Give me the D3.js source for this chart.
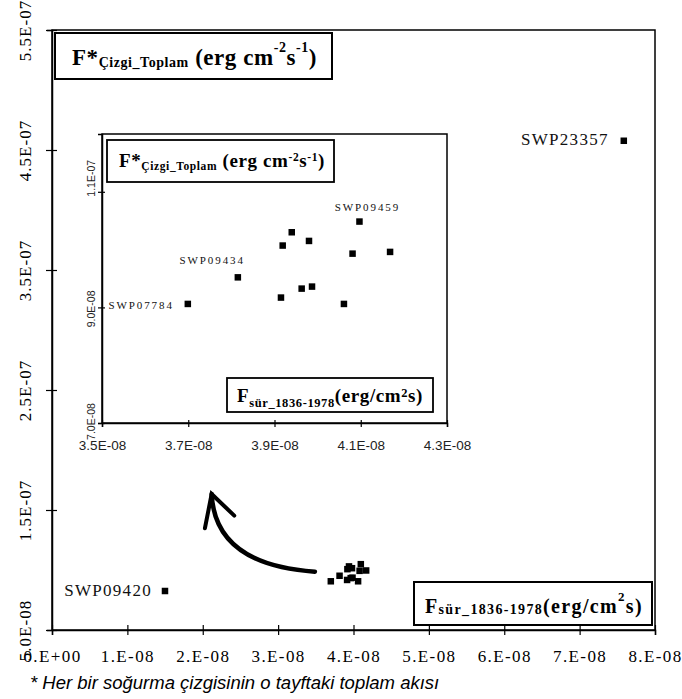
<!DOCTYPE html>
<html>
<head>
<meta charset="utf-8">
<script src="https://cdn.jsdelivr.net/npm/d3@7"></script>
<style>
	body { margin: 0; background: #fff; }
	text { white-space: pre; }
</style>
</head>
<body onload="onLoad()">
<div></div>
<script>
// spectrum names, continuum flux (x) and total line flux (y)
var pointNames = ["SWP23357", "SWP09420", "SWP07784", "SWP09434", "", "", "", "", "", "", "", "", "SWP09459", ""];
var fluxSur = [7.586e-8, 1.499e-8, 3.699e-8, 3.815e-8, 3.915e-8, 3.919e-8, 3.940e-8, 3.963e-8,
	3.980e-8, 3.987e-8, 4.061e-8, 4.081e-8, 4.097e-8, 4.168e-8];
var fluxLine = [4.577e-7, 8.25e-8, 9.06e-8, 9.52e-8, 9.17e-8, 10.07e-8, 10.30e-8, 9.325e-8,
	10.15e-8, 9.36e-8, 9.06e-8, 9.93e-8, 10.485e-8, 9.96e-8];

var mainLabels = ["SWP23357", "SWP09420"];
var insetLabels = ["SWP07784", "SWP09434", "SWP09459"];

var mainXTicks = [0, 1e-8, 2e-8, 3e-8, 4e-8, 5e-8, 6e-8, 7e-8, 8e-8];
var mainXTickLabels = ["0.E+00", "1.E-08", "2.E-08", "3.E-08", "4.E-08", "5.E-08", "6.E-08", "7.E-08", "8.E-08"];
var mainYTicks = [5e-8, 1.5e-7, 2.5e-7, 3.5e-7, 4.5e-7, 5.5e-7];
var mainYTickLabels = ["5.0E-08", "1.5E-07", "2.5E-07", "3.5E-07", "4.5E-07", "5.5E-07"];
var insetXTicks = [3.5e-8, 3.7e-8, 3.9e-8, 4.1e-8, 4.3e-8];
var insetXTickLabels = ["3.5E-08", "3.7E-08", "3.9E-08", "4.1E-08", "4.3E-08"];
var insetYTicks = [7e-8, 9e-8, 1.1e-7];
var insetYTickLabels = ["7.0E-08", "9.0E-08", "1.1E-07"];

// hand drawn arrow (start, bend, tip, two barbs), in data units of the main chart
var arrowStart = [3.488e-8, 9.86e-8];
var arrowBend = [2.163e-8, 1.042e-7];
var arrowTip = [2.118e-8, 1.633e-7];
var arrowBarbs = [[2.029e-8, 1.348e-7], [2.418e-8, 1.453e-7]];

var footnote = "* Her bir soğurma çizgisinin o tayftaki toplam akısı";

var svgContainer,
	serif = "'Liberation Serif', 'Times New Roman', serif",
	sans = "'Liberation Sans', Arial, sans-serif";

function onLoad() {
	svgContainer = d3.select("div")
	.append("svg")
	.attr("width", 682)
	.attr("height", 699);

	svgContainer.append("rect").attr("width", 682).attr("height", 699).attr("fill", "#fff");

	var x = d3.scaleLinear().domain([0, 8e-8]).range([52, 655]);
	var y = d3.scaleLinear().domain([5e-8, 5.5e-7]).range([630, 30]);

	drawMainChart(x, y);
	drawArrow(x, y);

	var xi = d3.scaleLinear().domain([3.5e-8, 4.3e-8]).range([102, 447]);
	var yi = d3.scaleLinear().domain([7e-8, 1.2e-7]).range([423, 134]);
	drawInset(xi, yi);

	svgContainer.append("text")
	.attr("x", 30)
	.attr("y", 689)
	.attr("font-family", sans)
	.attr("font-style", "italic")
	.attr("font-size", 18.5)
	.attr("fill", "#000")
	.text(footnote);
}

////////////////////////////////////////////
////////////DRAWING/////////////////////////
////////////////////////////////////////////

function drawMainChart(x, y) {
	// frame
	svgContainer.append("rect")
	.attr("x", 52).attr("y", 30)
	.attr("width", 603).attr("height", 600)
	.attr("fill", "none")
	.attr("stroke", "#000")
	.attr("stroke-width", 1.5);

	var xAxis = d3.axisBottom(x)
	.tickValues(mainXTicks)
	.tickFormat(function(d, i) { return mainXTickLabels[i]; })
	.tickSize(5);
	var gx = svgContainer.append("g")
	.attr("transform", "translate(0,630)")
	.call(xAxis);
	styleAxis(gx, serif, 17);
	gx.selectAll(".tick line").attr("y1", -5).attr("y2", 5);
	gx.selectAll(".tick text")
	.attr("y", 32).attr("dy", 0)
	.attr("letter-spacing", 1.4);

	var yAxis = d3.axisLeft(y)
	.tickValues(mainYTicks)
	.tickFormat(function(d, i) { return mainYTickLabels[i]; })
	.tickSize(5);
	var gy = svgContainer.append("g")
	.attr("transform", "translate(52,0)")
	.call(yAxis);
	styleAxis(gy, serif, 17);
	gy.selectAll(".tick line").attr("x1", -6).attr("x2", 5);
	gy.selectAll(".tick text")
	.attr("x", null).attr("dy", null)
	.attr("text-anchor", "middle")
	.attr("letter-spacing", 1)
	.attr("transform", "translate(-21,0) rotate(-90)");

	var outliers = d3.range(fluxSur.length).filter(function(i) {
		return mainLabels.indexOf(pointNames[i]) >= 0 || fluxSur[i] > 3.6e-8;
	});
	drawSquares(svgContainer, outliers, x, y, 6.5);

	var offsets = {
		"SWP23357": {dx: -15, dy: 4, anchor: "end"},
		"SWP09420": {dx: -13, dy: 5, anchor: "end"}
	};
	drawNames(svgContainer, mainLabels, offsets, x, y, 17, 1.3);

	drawBox(svgContainer, 55, 33, 277, 46, 2);
	richText(svgContainer, 72, 65, 23, 245, {sub: 1.7, sup: -13, sizeSub: 14, sizeSup: 14}, [
		{t: "F*"}, {t: "Çizgi_Toplam", sub: true}, {t: " (erg cm"},
		{t: "-2", sup: true}, {t: "s"}, {t: "-1", sup: true}, {t: ")"}
	]);

	drawBox(svgContainer, 414, 582, 238, 43, 2);
	richText(svgContainer, 425, 613, 20, 218, {sub: 1, sup: -12, sizeSub: 14, sizeSup: 13}, [
		{t: "F"}, {t: "sür_1836-1978", sub: true}, {t: "(erg/cm"},
		{t: "2", sup: true}, {t: "s)"}
	]);
}

function drawInset(xi, yi) {
	var inset = svgContainer.append("g");

	inset.append("rect")
	.attr("x", 102).attr("y", 134)
	.attr("width", 345).attr("height", 289)
	.attr("fill", "#fff")
	.attr("stroke", "#000")
	.attr("stroke-width", 1.5);

	var xAxis = d3.axisBottom(xi)
	.tickValues(insetXTicks)
	.tickFormat(function(d, i) { return insetXTickLabels[i]; })
	.tickSize(4);
	var gx = inset.append("g")
	.attr("transform", "translate(0,423)")
	.call(xAxis);
	styleAxis(gx, sans, 13.5);
	gx.selectAll(".tick line").attr("y1", -3).attr("y2", 4);
	gx.selectAll(".tick text").attr("y", 27).attr("dy", 0).attr("fill", "#222");

	// the rotated labels of the inset do not sit evenly on their ticks
	var labelShift = {"7.0E-08": -2, "9.0E-08": 1, "1.1E-07": -14};
	var yAxis = d3.axisLeft(yi)
	.tickValues(insetYTicks)
	.tickFormat(function(d, i) { return insetYTickLabels[i]; })
	.tickSize(4);
	var gy = inset.append("g")
	.attr("transform", "translate(102,0)")
	.call(yAxis);
	styleAxis(gy, sans, 10.5);
	gy.selectAll(".tick line").attr("x1", -4).attr("x2", 3);
	gy.selectAll(".tick text")
	.attr("x", null).attr("dy", null)
	.attr("text-anchor", "middle")
	.attr("fill", "#222")
	.attr("transform", function(d, i) {
		return "translate(-7," + labelShift[insetYTickLabels[i]] + ") rotate(-90)";
	});

	var cluster = d3.range(fluxSur.length).filter(function(i) {
		return fluxSur[i] >= xi.domain()[0] && fluxSur[i] <= xi.domain()[1] &&
			fluxLine[i] >= yi.domain()[0] && fluxLine[i] <= yi.domain()[1];
	});
	drawSquares(inset, cluster, xi, yi, 6.5);

	var offsets = {
		"SWP07784": {dx: -14, dy: 5, anchor: "end"},
		"SWP09434": {dx: 7, dy: -13, anchor: "end"},
		"SWP09459": {dx: 8, dy: -11, anchor: "middle"}
	};
	drawNames(inset, insetLabels, offsets, xi, yi, 11, 1.9);

	drawBox(inset, 107, 140, 227, 42, 1.8);
	richText(inset, 119, 167, 19, 206, {sub: 3.3, sup: -6, sizeSub: 11.5, sizeSup: 11.5}, [
		{t: "F*"}, {t: "Çizgi_Toplam", sub: true}, {t: " (erg cm"},
		{t: "-2", sup: true}, {t: "s"}, {t: "-1", sup: true}, {t: ")"}
	]);

	drawBox(inset, 227, 378, 206, 34, 1.8);
	richText(inset, 237, 402, 19, 186, {sub: 4.5, sup: -5.5, sizeSub: 12.5, sizeSup: 12.5}, [
		{t: "F"}, {t: "sür_1836-1978", sub: true}, {t: "(erg/cm"},
		{t: "2", sup: true}, {t: "s)"}
	]);
}

function styleAxis(g, family, size) {
	g.attr("font-family", family).attr("font-size", size);
	g.select(".domain").attr("stroke", "#000").attr("stroke-width", 1.5);
	g.selectAll(".tick line").attr("stroke", "#000").attr("stroke-width", 1.2);
	g.selectAll(".tick text").attr("fill", "#000");
}

function drawSquares(parent, indexes, x, y, size) {
	parent.selectAll(null)
	.data(indexes)
	.enter()
	.append("rect")
	.attr("x", function(i) { return x(fluxSur[i]) - size / 2; })
	.attr("y", function(i) { return y(fluxLine[i]) - size / 2; })
	.attr("width", size)
	.attr("height", size)
	.attr("fill", "#000");
}

function drawNames(parent, names, offsets, x, y, size, spacing) {
	names.forEach(function(name) {
		var i = pointNames.indexOf(name);
		var o = offsets[name];
		parent.append("text")
		.attr("x", x(fluxSur[i]) + o.dx)
		.attr("y", y(fluxLine[i]) + o.dy)
		.attr("text-anchor", o.anchor)
		.attr("font-family", serif)
		.attr("font-size", size)
		.attr("letter-spacing", spacing)
		.attr("fill", "#111")
		.text(name);
	});
}

function drawBox(parent, bx, by, w, h, sw) {
	parent.append("rect")
	.attr("x", bx).attr("y", by)
	.attr("width", w).attr("height", h)
	.attr("fill", "#fff")
	.attr("stroke", "#000")
	.attr("stroke-width", sw);
}

// bold title with sub/superscripts, spread out to the width it has in the picture
function richText(parent, tx, ty, size, width, shift, parts) {
	var text = parent.append("text")
	.attr("x", tx)
	.attr("y", ty)
	.attr("font-family", serif)
	.attr("font-weight", "bold")
	.attr("fill", "#000");
	var cur = 0, count = 0;
	parts.forEach(function(p) {
		var off = p.sub ? shift.sub : (p.sup ? shift.sup : 0);
		text.append("tspan")
		.attr("dy", off - cur)
		.attr("font-size", p.sub ? shift.sizeSub : (p.sup ? shift.sizeSup : size))
		.text(p.t);
		cur = off;
		count += p.t.length;
	});
	var len = text.node().getComputedTextLength();
	text.attr("letter-spacing", Math.max(0, (width - len) / count));
}

function drawArrow(x, y) {
	var p = d3.path();
	p.moveTo(x(arrowStart[0]), y(arrowStart[1]));
	p.quadraticCurveTo(x(arrowBend[0]), y(arrowBend[1]), x(arrowTip[0]), y(arrowTip[1]));

	svgContainer.append("path")
	.attr("d", p.toString())
	.attr("fill", "none")
	.attr("stroke", "#000")
	.attr("stroke-width", 4.5)
	.attr("stroke-linecap", "round");

	var head = d3.line()
	.x(function(d) { return x(d[0]); })
	.y(function(d) { return y(d[1]); });

	svgContainer.append("path")
	.attr("d", head([arrowBarbs[0], arrowTip, arrowBarbs[1]]))
	.attr("fill", "none")
	.attr("stroke", "#000")
	.attr("stroke-width", 4)
	.attr("stroke-linejoin", "miter")
	.attr("stroke-linecap", "round");
}
</script>
</body>
</html>
